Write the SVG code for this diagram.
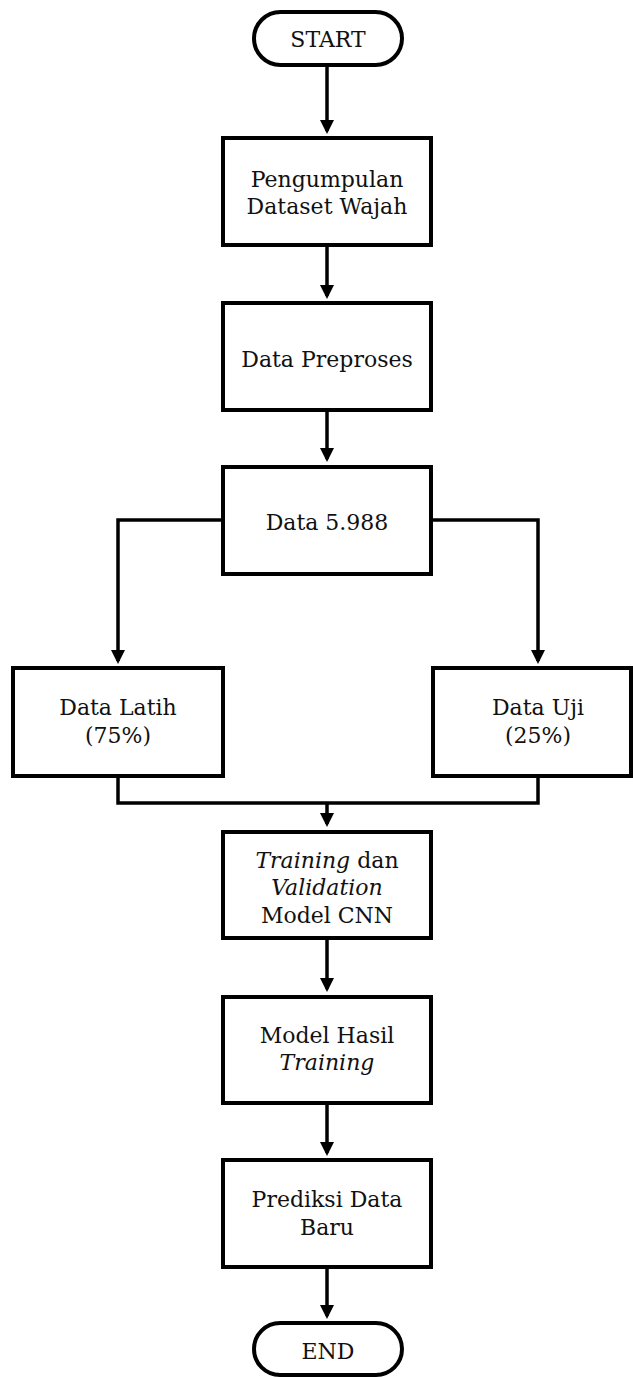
<svg xmlns="http://www.w3.org/2000/svg" width="633" height="1378" viewBox="0 0 633 1378">
<style>
.box{fill:#fff;stroke:#000;stroke-width:4}
.t{font-family:"DejaVu Serif","Liberation Serif",serif;font-size:22px;fill:#111;text-anchor:middle}
.i{font-style:italic}
.c{fill:none;stroke:#000;stroke-width:3.5}
</style>
<defs>
<marker id="ah" viewBox="0 0 10 10" refX="7.8" refY="5" markerWidth="18" markerHeight="14" orient="auto" markerUnits="userSpaceOnUse">
<path d="M0,0 L10,5 L0,10 z" fill="#000"/>
</marker>
</defs>
<g id="connectors">
<path class="c" d="M327,65 V131" marker-end="url(#ah)"/>
<path class="c" d="M327,245 V296" marker-end="url(#ah)"/>
<path class="c" d="M327,410 V459" marker-end="url(#ah)"/>
<path class="c" d="M223,520 H118 V661" marker-end="url(#ah)"/>
<path class="c" d="M431,520 H538 V661" marker-end="url(#ah)"/>
<path class="c" d="M118,776 V803 H538 V776"/>
<path class="c" d="M327,803 V824" marker-end="url(#ah)"/>
<path class="c" d="M327,938 V989" marker-end="url(#ah)"/>
<path class="c" d="M327,1103 V1153" marker-end="url(#ah)"/>
<path class="c" d="M327,1267 V1316" marker-end="url(#ah)"/>
</g>
<g id="start">
<rect class="box" x="254" y="12" width="148" height="53" rx="26.5"/>
<text class="t" x="328" y="47">START</text>
</g>
<g id="pengumpulan">
<rect class="box" x="223" y="138" width="208" height="107"/>
<text class="t" x="327" y="187">Pengumpulan</text>
<text class="t" x="327" y="214">Dataset Wajah</text>
</g>
<g id="preproses">
<rect class="box" x="223" y="303" width="208" height="107"/>
<text class="t" x="327" y="367">Data Preproses</text>
</g>
<g id="data5988">
<rect class="box" x="223" y="467" width="208" height="107"/>
<text class="t" x="327" y="530">Data 5.988</text>
</g>
<g id="latih">
<rect class="box" x="13" y="668" width="210" height="108"/>
<text class="t" x="118" y="715">Data Latih</text>
<text class="t" x="118" y="743">(75%)</text>
</g>
<g id="uji">
<rect class="box" x="433" y="668" width="198" height="108"/>
<text class="t" x="538" y="715">Data Uji</text>
<text class="t" x="538" y="743">(25%)</text>
</g>
<g id="training">
<rect class="box" x="223" y="832" width="208" height="106"/>
<text class="t" x="327" y="868"><tspan class="i">Training</tspan> dan</text>
<text class="t i" x="327" y="895">Validation</text>
<text class="t" x="327" y="923">Model CNN</text>
</g>
<g id="hasil">
<rect class="box" x="223" y="997" width="208" height="106"/>
<text class="t" x="327" y="1043">Model Hasil</text>
<text class="t i" x="327" y="1070">Training</text>
</g>
<g id="prediksi">
<rect class="box" x="223" y="1160" width="208" height="107"/>
<text class="t" x="327" y="1207">Prediksi Data</text>
<text class="t" x="327" y="1235">Baru</text>
</g>
<g id="end">
<rect class="box" x="254" y="1323" width="148" height="52" rx="26"/>
<text class="t" x="328" y="1359">END</text>
</g>
</svg>
